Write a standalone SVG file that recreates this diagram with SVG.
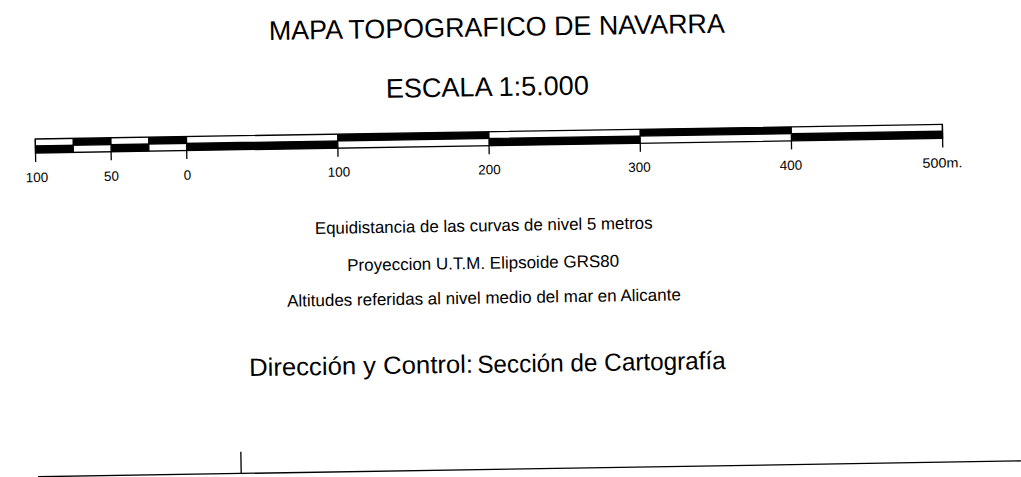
<svg xmlns="http://www.w3.org/2000/svg" width="1021" height="477" viewBox="0 0 1021 477">
<style>
text{font-family:"Liberation Sans",Arial,Helvetica,sans-serif;fill:#000}
.t1{font-size:27px}
.t2{font-size:17px}
.t3{font-size:25px}
.lbl{font-size:13.5px;text-anchor:middle}
.blk{fill:#000}
.ln{stroke:#000;stroke-width:1.3;fill:none}
</style>
<rect width="1021" height="477" fill="#fff"/>
<g transform="rotate(-0.92 36 139)">
<g id="title">
<text class="t1" x="270.5" y="43.7" textLength="456" lengthAdjust="spacingAndGlyphs">MAPA TOPOGRAFICO DE NAVARRA</text>
<text class="t1" x="386.6" y="103.4" textLength="203" lengthAdjust="spacingAndGlyphs">ESCALA 1:5.000</text>
</g>
<g id="scalebar">
<rect x="35.3" y="139" width="907.2" height="14" fill="#fff"/>
<rect class="blk" x="73.1" y="139" width="37.8" height="6.8"/>
<rect class="blk" x="148.7" y="139" width="37.8" height="6.8"/>
<rect class="blk" x="337.7" y="139" width="151.2" height="6.8"/>
<rect class="blk" x="640.1" y="139" width="151.2" height="6.8"/>
<rect class="blk" x="35.3" y="145.8" width="37.8" height="7.2"/>
<rect class="blk" x="110.9" y="145.8" width="37.8" height="7.2"/>
<rect class="blk" x="186.5" y="145.8" width="151.2" height="7.2"/>
<rect class="blk" x="488.9" y="145.8" width="151.2" height="7.2"/>
<rect class="blk" x="791.3" y="145.8" width="151.2" height="7.2"/>
<rect class="ln" x="35.3" y="139" width="907.2" height="14" stroke-width="1.5"/>
<path class="ln" d="M35.3 145.8H942.5M73.1 139V153M110.9 139V153M148.7 139V153M186.5 139V153M337.7 139V153M488.9 139V153M640.1 139V153M791.3 139V153"/>
<path class="ln" stroke-width="1.5" d="M35.3 139V162M110.9 153V161.5M186.5 153V161.5M337.7 153V161.5M488.9 153V161.5M640.1 153V161.5M791.3 153V161.5M942.5 139V162"/>
</g>
<g id="scale-labels">
<text class="lbl" x="36.3" y="182">100</text>
<text class="lbl" x="110.8" y="182">50</text>
<text class="lbl" x="186.8" y="182">0</text>
<text class="lbl" x="338.3" y="181.5">100</text>
<text class="lbl" x="488.8" y="181.5">200</text>
<text class="lbl" x="638.8" y="181.5">300</text>
<text class="lbl" x="790.3" y="182">400</text>
<text x="922" y="182" style="font-size:13.5px" textLength="40" lengthAdjust="spacingAndGlyphs">500m.</text>
</g>
<g id="notes">
<text class="t2" x="313.4" y="238.5" textLength="337.7" lengthAdjust="spacingAndGlyphs">Equidistancia de las curvas de nivel 5 metros</text>
<text class="t2" x="345.1" y="276" textLength="272" lengthAdjust="spacingAndGlyphs">Proyeccion U.T.M. Elipsoide GRS80</text>
<text class="t2" x="284.5" y="310.7" textLength="393.7" lengthAdjust="spacingAndGlyphs">Altitudes referidas al nivel medio del mar en Alicante</text>
</g>
<g id="credits">
<text class="t3" x="245.4" y="379.5" textLength="224" lengthAdjust="spacingAndGlyphs">Dirección y Control:</text>
<text class="t3" x="473.6" y="380" textLength="248.5" lengthAdjust="spacingAndGlyphs">Sección de Cartografía</text>
</g>
<g id="connectors">
<path class="ln" stroke-width="1.2" d="M32.6 476.7H1040"/>
<path class="ln" stroke-width="1.2" d="M235.8 455V476.7"/>
</g>
</g>
</svg>
